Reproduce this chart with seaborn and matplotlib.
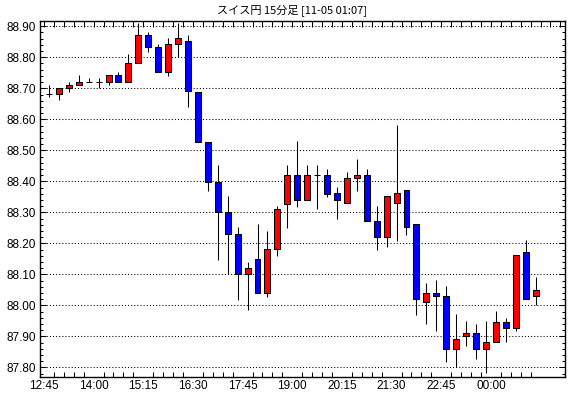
import numpy as np
import pandas as pd
import matplotlib
matplotlib.use("Agg")
import matplotlib.pyplot as plt
import seaborn as sns
from matplotlib.ticker import MultipleLocator, FixedLocator

# ---- data (15-minute candles, 12:45 .. 01:00) ----
opens = [88.681, 88.681, 88.700, 88.710, 88.719, 88.719, 88.719, 88.743, 88.719, 88.781,
         88.872, 88.832, 88.752, 88.842, 88.852, 88.689, 88.528, 88.399, 88.300, 88.229,
         88.100, 88.148, 88.039, 88.181, 88.328, 88.419, 88.339, 88.419, 88.419, 88.361,
         88.329, 88.410, 88.419, 88.271, 88.220, 88.329, 88.371, 88.261, 88.010, 88.039,
         88.029, 87.858, 87.900, 87.910, 87.858, 87.881, 87.948, 87.928, 88.171, 88.029]
closes = [88.681, 88.700, 88.710, 88.719, 88.719, 88.719, 88.743, 88.719, 88.781, 88.872,
          88.832, 88.752, 88.843, 88.861, 88.690, 88.528, 88.399, 88.300, 88.229, 88.100,
          88.119, 88.039, 88.181, 88.310, 88.419, 88.339, 88.419, 88.419, 88.360, 88.339,
          88.410, 88.419, 88.271, 88.220, 88.352, 88.361, 88.252, 88.019, 88.039, 88.029,
          87.858, 87.890, 87.910, 87.858, 87.881, 87.948, 87.928, 88.161, 88.019, 88.048]
highs = [88.711, 88.700, 88.719, 88.743, 88.732, 88.732, 88.743, 88.754, 88.811, 88.910,
         88.881, 88.843, 88.861, 88.910, 88.872, 88.689, 88.528, 88.452, 88.353, 88.254,
         88.141, 88.262, 88.240, 88.320, 88.453, 88.530, 88.453, 88.453, 88.439, 88.381,
         88.430, 88.472, 88.439, 88.320, 88.352, 88.582, 88.371, 88.261, 88.072, 88.081,
         88.062, 87.972, 87.949, 87.940, 87.949, 87.982, 87.958, 88.161, 88.210, 88.091]
lows = [88.671, 88.662, 88.689, 88.710, 88.719, 88.700, 88.710, 88.719, 88.719, 88.781,
        88.818, 88.752, 88.741, 88.800, 88.641, 88.528, 88.370, 88.146, 88.100, 88.017,
        87.985, 88.039, 88.028, 88.160, 88.250, 88.318, 88.339, 88.310, 88.350, 88.279,
        88.329, 88.370, 88.271, 88.179, 88.189, 88.208, 88.228, 87.970, 87.939, 87.918,
        87.819, 87.800, 87.870, 87.828, 87.781, 87.881, 87.881, 87.918, 88.019, 88.000]
tick_labels = ["12:45", "14:00", "15:15", "16:30", "17:45", "19:00", "20:15", "21:30", "22:45", "00:00"]
title = "スイス円 15分足 [11-05 01:07]"

df = pd.DataFrame({"open": opens, "close": closes, "high": highs, "low": lows})
df["idx"] = np.arange(len(df))

sns.set_theme(style="white")
plt.rcParams["font.family"] = ["Liberation Sans", "DejaVu Sans"]

fig = plt.figure(figsize=(5.70, 3.98), dpi=100)
ax = fig.add_axes([40 / 570, 1 - 376.7 / 398, 525 / 570, 356 / 398])
ax.set_facecolor("white")

# wicks
ax.vlines(df["idx"], df["low"], df["high"], color="black", linewidth=0.75, zorder=2)

# bodies
up = df["close"] > df["open"]
down = df["close"] < df["open"]
flat = df["close"] == df["open"]
bw = 0.6
ax.bar(df.loc[up, "idx"], (df["close"] - df["open"])[up], bottom=df.loc[up, "open"],
       width=bw, color="#FF0000", edgecolor="black", linewidth=0.75, zorder=3)
ax.bar(df.loc[down, "idx"], (df["open"] - df["close"])[down], bottom=df.loc[down, "close"],
       width=bw, color="#0000FF", edgecolor="black", linewidth=0.75, zorder=3)
ax.hlines(df.loc[flat, "close"], df.loc[flat, "idx"] - bw / 2, df.loc[flat, "idx"] + bw / 2,
          color="black", linewidth=0.75, zorder=3)

ax.set_xlim(-0.9, 51.96)
ax.set_ylim(87.770, 88.918)

# y ticks
ax.yaxis.set_major_locator(FixedLocator(np.round(np.arange(87.8, 88.91, 0.1), 2)))
ax.yaxis.set_minor_locator(MultipleLocator(0.02))
ax.yaxis.set_major_formatter(matplotlib.ticker.FuncFormatter(lambda v, p: f"{v:.2f}"))
ax.grid(axis="y", which="major", color="black", linestyle=(0, (1, 2)), linewidth=0.75)
ax.grid(axis="x", visible=False)

# x ticks
label_pos = [i * 5 - 0.5 for i in range(len(tick_labels))]
ax.set_xticks(label_pos)
ax.set_xticklabels(tick_labels)
ax.xaxis.set_minor_locator(FixedLocator(np.arange(-0.5, 49, 1.0)))

ax.tick_params(axis="both", which="both", direction="in", color="black",
               labelsize=8.5, labelcolor="black")
ax.tick_params(axis="y", which="major", length=4, width=0.75, left=True, right=True, pad=3)
ax.tick_params(axis="y", which="minor", length=2.5, width=0.75, left=True, right=True)
ax.tick_params(axis="x", which="major", length=0, pad=2.5, bottom=True, top=False)
ax.tick_params(axis="x", which="minor", length=3.5, width=0.75, bottom=True, top=False)

# top ticks on secondary axis
axt = ax.secondary_xaxis("top")
axt.set_xticks(np.arange(-0.5, 52, 1.0))
axt.tick_params(axis="x", direction="in", length=4, width=0.75, labeltop=False, color="black")
axt.spines["top"].set_visible(False)

for s in ax.spines.values():
    s.set_color("black")
    s.set_linewidth(1.0)
    s.set_visible(True)

fig.text(292 / 570, 1 - 10 / 398, title, ha="center", va="center", fontsize=8,
         family=["Noto Sans CJK JP", "DejaVu Sans"], color="black")

fig.savefig("out.png", dpi=100, facecolor="white")
